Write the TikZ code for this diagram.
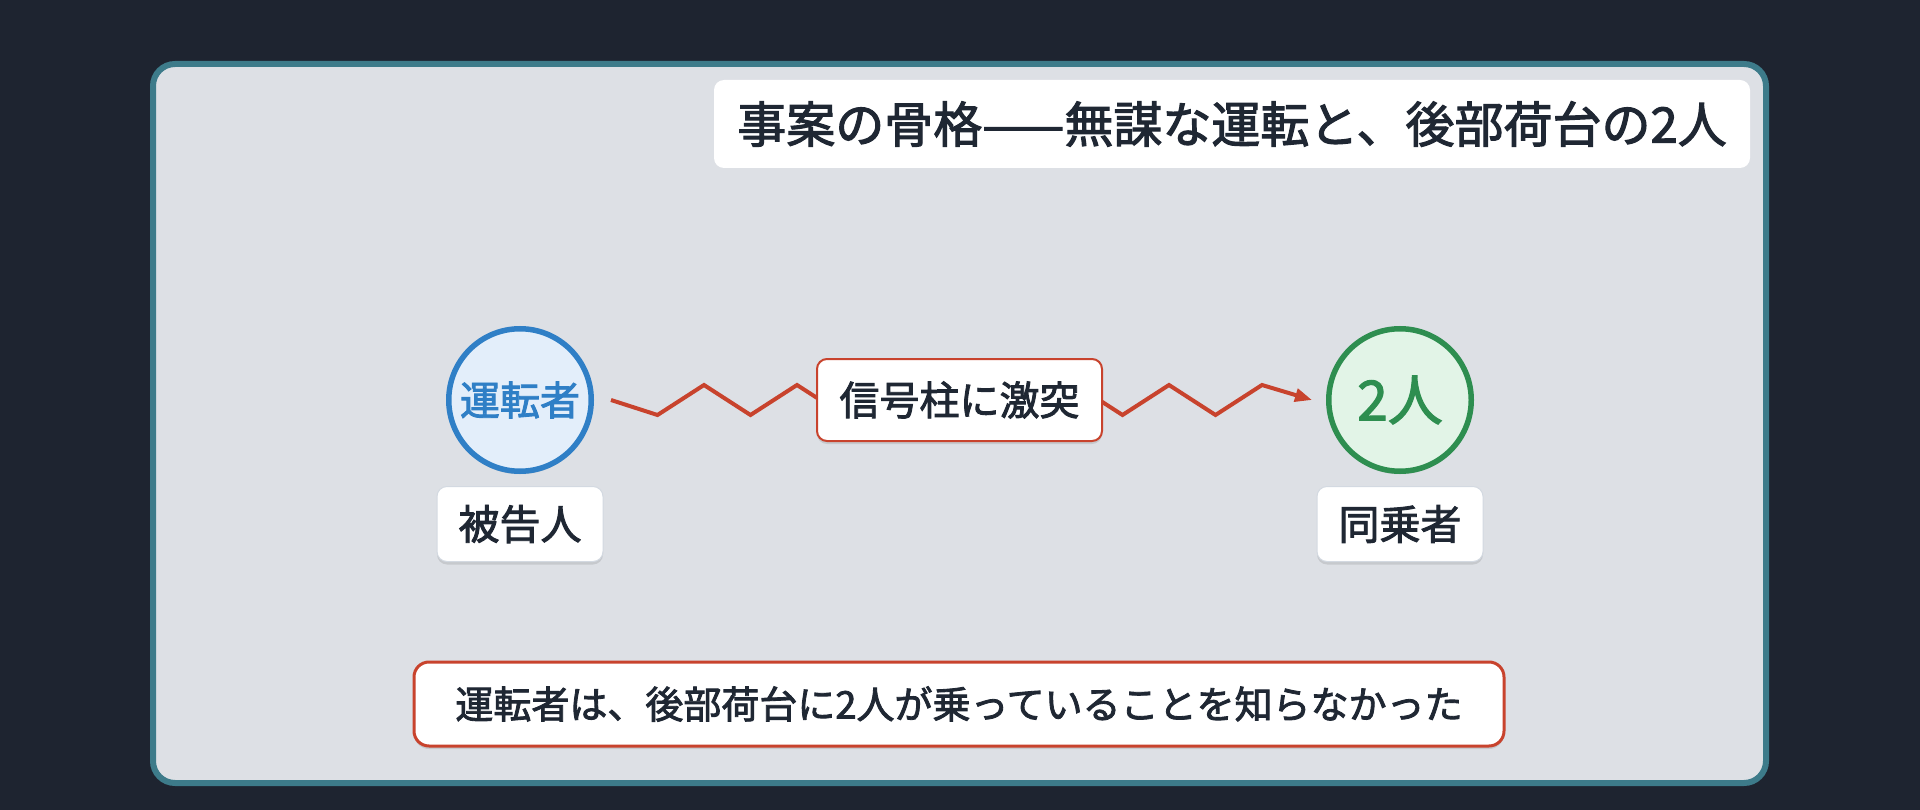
\documentclass[tikz,border=0pt]{standalone}
\usepackage{fontspec}
\setmainfont{Noto Sans CJK JP}[FakeBold=2.2]
\usetikzlibrary{arrows.meta,shadows,calc}
\definecolor{bgdark}{HTML}{1E2430}
\definecolor{frameedge}{HTML}{3D7B8A}
\definecolor{framefill}{HTML}{DDE0E5}
\definecolor{inkdark}{HTML}{1F2733}
\definecolor{drvblue}{HTML}{2F7FC6}
\definecolor{drvfill}{HTML}{E3EEFA}
\definecolor{pasgreen}{HTML}{2E8E50}
\definecolor{pasfill}{HTML}{E2F4E7}
\definecolor{alertred}{HTML}{C8432D}
\definecolor{labeledge}{HTML}{D3D9E1}
\tikzset{
  softshadow/.style={drop shadow={shadow xshift=0pt,shadow yshift=-3pt,opacity=.10,fill=black}},
  titlebox/.style={rectangle,rounded corners=10pt,fill=white,inner sep=0pt,
    minimum width=1036pt,minimum height=88pt,text=inkdark,font=\fontsize{49}{56}\selectfont},
  actor/.style={circle,line width=5.5pt,inner sep=0pt,minimum size=142.5pt,softshadow},
  namebox/.style={rectangle,rounded corners=10pt,fill=white,draw=labeledge,line width=1pt,
    inner sep=0pt,minimum width=166pt,minimum height=75pt,text=inkdark,
    font=\fontsize{41}{48}\selectfont,softshadow},
  eventbox/.style={rectangle,rounded corners=10pt,fill=white,draw=alertred,line width=2pt,
    inner sep=0pt,minimum width=285pt,minimum height=82pt,text=inkdark,
    font=\fontsize{40}{48}\selectfont,softshadow},
  notebox/.style={rectangle,rounded corners=15pt,fill=white,draw=alertred,line width=3pt,
    inner sep=0pt,minimum width=1090pt,minimum height=84pt,text=inkdark,
    font=\fontsize{38}{46}\selectfont,softshadow},
  zz/.style={draw=alertred,line width=4pt,line join=miter,
    -{Triangle[length=17pt,width=13pt]}}
}
\begin{document}
\begin{tikzpicture}[x=1pt,y=-1pt]
\fill[bgdark] (0,0) rectangle (1920,810);
\useasboundingbox (0,0) rectangle (1920,810);
\draw[frameedge,line width=6pt,fill=framefill,rounded corners=22pt] (153,64) rectangle (1766,783);

\node[titlebox] (title) at (1232,124) {事案の骨格——無謀な運転と、後部荷台の2人};

\node[actor,draw=drvblue,fill=drvfill,text=drvblue,font=\fontsize{40}{48}\selectfont] (drv) at (520,400) {運転者};
\node[actor,draw=pasgreen,fill=pasfill,text=pasgreen,font=\fontsize{55}{60}\selectfont] (pas) at (1400,400) {2人};

\node[namebox] (drvname) at (520,524) {被告人};
\node[namebox] (pasname) at (1400,524) {同乗者};

\coordinate (zs) at ($(drv.east)+(17,0)$);
\coordinate (ze) at ($(pas.west)+(-14,0)$);
\draw[zz] (zs) foreach \k in {0,...,13} { -- ({657.5+46.5*\k},{400+15*cos(180*\k)}) } -- (ze);

\node[eventbox] (crash) at (959.5,400) {信号柱に激突};

\node[notebox] (note) at (959,704) {運転者は、後部荷台に2人が乗っていることを知らなかった};
\end{tikzpicture}
\end{document}
